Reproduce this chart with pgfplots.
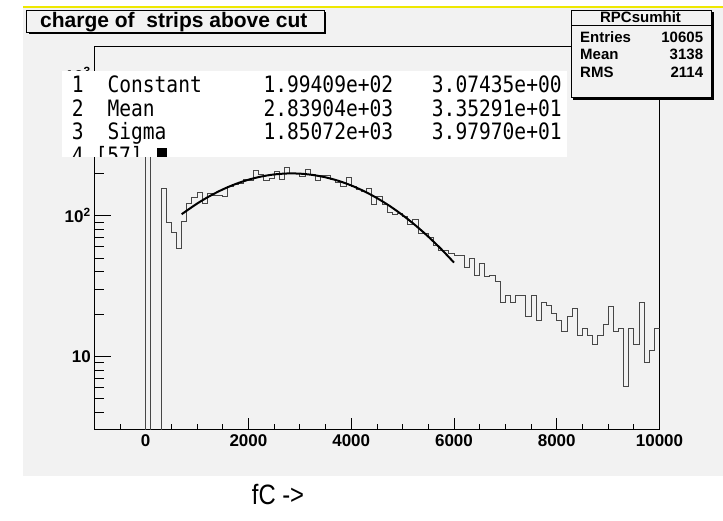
\documentclass[border=0pt]{standalone}
\usepackage{pgfplots}
\pgfplotsset{compat=1.18}
\usepackage{pgfplotstable}
\usepackage{fontspec}
\setmainfont{Liberation Sans}
\newfontfamily\monofont{DejaVu Sans Mono}
\definecolor{canvas}{RGB}{242,242,242}
\definecolor{rootyellow}{RGB}{238,232,0}

\pgfplotstableread{
x y
-100 1
0 500
100 1
200 1
300 157
400 90
500 76
600 58.6
700 91
800 123
900 135
1000 145
1100 123
1200 143
1300 139
1400 139
1500 136
1600 161
1700 166
1800 170
1900 182
2000 178
2100 208
2200 195
2300 178
2400 185
2500 206
2600 182
2700 220
2800 199
2900 199
3000 190
3100 212
3200 195
3300 178
3400 192
3500 193
3600 182
3700 172
3800 160
3900 187
4000 161
4100 153
4200 149
4300 157
4400 120
4500 137
4600 120
4700 105
4800 102
4900 103
5000 99
5100 86
5200 94
5300 75
5400 75
5500 70
5600 61
5700 57
5800 57
5900 54
6000 52
6100 52
6200 42.6
6300 50
6400 37.5
6500 45.6
6600 37.2
6700 37.5
6800 34.2
6900 24
7000 27
7100 24
7200 27
7300 27
7400 19.1
7500 27
7600 18
7700 24
7800 23
7900 20.2
8000 18
8100 15
8200 19.1
8300 21.9
8400 14.1
8500 15.9
8600 14.1
8700 12.2
8800 14.1
8900 16.9
9000 22.7
9100 15
9200 15.9
9300 6.1
9400 15.9
9500 12.2
9600 24
9700 9.1
9800 11.1
9900 15.9
10000 15.9
}\histdata

\pgfplotstableread{
x y
700 102.3
1000 121.7
1250 137.9
1500 153.5
1750 167.7
2000 179.9
2250 189.6
2500 196.1
2750 199.2
3000 198.7
3250 194.5
3500 187.1
3750 176.7
4000 163.8
4250 149.1
4500 133.3
4750 117.0
5000 100.8
5250 85.3
5500 70.9
5750 57.9
6000 46.4
}\fitdata

\begin{document}
\begin{tikzpicture}[x=1pt,y=1pt]
\path[use as bounding box, fill=white] (0,0) rectangle (723,521);
\fill[canvas] (23,45) rectangle (723,513);
\draw[black, line width=0.6] (23,514.6) -- (723,514.6);
\draw[rootyellow, line width=2] (23,513.5) -- (723,513.5);

\begin{axis}[
  at={(94.3pt,91pt)}, anchor=south west,
  scale only axis, width=565.2pt, height=383.3pt,
  xmin=-1000, xmax=10000,
  ymode=log, ymin=3, ymax=1585,
  scaled x ticks=false,
  axis background/.style={fill=canvas},
  axis line style={black, line width=1pt},
  xtick={0,2000,4000,6000,8000,10000},
  xticklabels={0,2000,4000,6000,8000,10000},
  minor xtick={-500,0,...,9500},
  ytick={10,100,1000},
  yticklabels={10,10\textsuperscript{2},10\textsuperscript{3}},
  minor ytick={4,5,6,7,8,9,20,30,40,50,60,70,80,90,200,300,400,500,600,700,800,900},
  xtick pos=bottom, ytick pos=left,
  tick align=inside,
  xtick style={black, line width=0.8pt, /pgfplots/major tick length=12pt, /pgfplots/minor tick length=6pt},
  ytick style={black, line width=0.8pt, /pgfplots/major tick length=17pt, /pgfplots/minor tick length=10pt},
  tick label style={font=\bfseries\fontsize{17}{17}\selectfont},
  xticklabel style={yshift=-1pt},
  /pgf/number format/assume math mode=true,
]
\addplot[const plot mark left, black!72, line width=0.9pt] table[x=x, y=y] {\histdata};
\addplot[smooth, black, line width=2pt] table[x=x, y=y] {\fitdata};
\end{axis}

% fit parameter box
\fill[white] (61.7,364.3) rectangle (566.7,450);
\begin{scope}
\clip (61.7,364.3) rectangle (566.7,450);
\begin{scope}[every node/.style={inner sep=0pt, anchor=base west, font=\monofont\fontsize{19.6}{19.6}\selectfont, yscale=1.15}]
\node at (71.7,428) {1};
\node at (107.3,428) {Constant};
\node at (263.3,428) {1.99409e+02};
\node at (431.7,428) {3.07435e+00};
\node at (71.7,404.5) {2};
\node at (107.3,404.5) {Mean};
\node at (263.3,404.5) {2.83904e+03};
\node at (431.7,404.5) {3.35291e+01};
\node at (71.7,381) {3};
\node at (107.3,381) {Sigma};
\node at (263.3,381) {1.85072e+03};
\node at (431.7,381) {3.97970e+01};
\node at (71.7,357.5) {4};
\node at (95.3,357.5) {[57]};
\end{scope}
\fill[black] (157,364) rectangle (167,373);
\end{scope}

% title box
\fill[black] (28.7,486.7) rectangle (326.3,509);
\filldraw[fill=canvas, draw=black, line width=0.8] (26.7,488.7) rectangle (324.3,511);
\node[anchor=base west, inner sep=0pt, font=\bfseries\fontsize{21}{21}\selectfont] at (40,493.5) {charge of\ \ strips above cut};

% stats box
\fill[black] (573,421.3) rectangle (713.7,509);
\filldraw[fill=canvas, draw=black, line width=0.8] (571,423.3) rectangle (711.7,511);
\draw[black, line width=0.8] (571,495.3) -- (711.7,495.3);
\begin{scope}[every node/.style={inner sep=0pt, font=\bfseries\fontsize{15}{15}\selectfont}]
\node[anchor=base] at (640.5,498) {RPCsumhit};
\node[anchor=base west] at (580,478) {Entries};
\node[anchor=base east] at (703.3,478) {10605};
\node[anchor=base west] at (580,461.5) {Mean};
\node[anchor=base east] at (703.3,461.5) {3138};
\node[anchor=base west] at (580,443.5) {RMS};
\node[anchor=base east] at (703.3,443.5) {2114};
\end{scope}

% axis title
\node[anchor=center, inner sep=0pt, font=\fontsize{28}{28}\selectfont, xscale=0.85] at (278,26) {fC ->};
\end{tikzpicture}
\end{document}
